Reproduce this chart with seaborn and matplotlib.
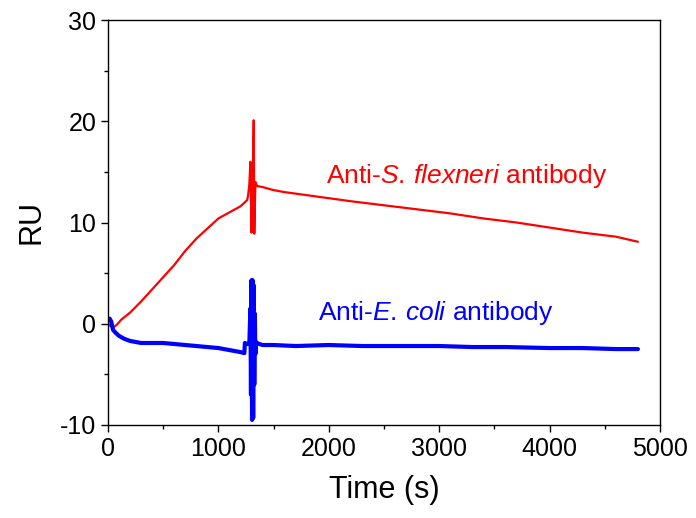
import matplotlib
matplotlib.use("Agg")
import matplotlib.pyplot as plt
from matplotlib.ticker import MultipleLocator
import seaborn as sns
import pandas as pd

# ---- data ----
red_t = [0, 20, 45, 80, 120, 200, 300, 400, 500, 600, 700, 800, 900, 1000,
         1100, 1200, 1260, 1268, 1280, 1290, 1300, 1310, 1320, 1325, 1335,
         1350, 1400, 1500, 1600, 1800, 2000, 2200, 2500, 2800, 3100, 3400,
         3700, 4000, 4300, 4600, 4800]
red_v = [0.0, -0.2, -0.4, -0.1, 0.4, 1.1, 2.2, 3.4, 4.6, 5.8, 7.2, 8.4, 9.4,
         10.4, 11.0, 11.6, 12.2, 12.6, 13.7, 16.0, 9.0, 13.5, 20.1, 8.9, 14.0,
         13.6, 13.5, 13.2, 13.0, 12.7, 12.4, 12.1, 11.7, 11.3, 10.9, 10.4,
         10.0, 9.5, 9.0, 8.6, 8.1]

blue_t = [0, 15, 30, 45, 70, 100, 150, 200, 300, 400, 500, 600, 700, 800,
          900, 1000, 1100, 1200, 1235, 1240, 1260, 1280, 1290, 1295, 1300,
          1305, 1310, 1315, 1320, 1325, 1330, 1335, 1340, 1350, 1370, 1400,
          1500, 1700, 2000, 2300, 2600, 3000, 3300, 3600, 4000, 4300, 4600,
          4800]
blue_v = [0.4, 0.5, 0.2, -0.6, -0.9, -1.2, -1.5, -1.7, -1.9, -1.9, -1.9,
          -2.0, -2.1, -2.2, -2.3, -2.4, -2.6, -2.8, -2.9, -1.9, -2.0, -2.0,
          1.5, -7.0, 4.3, -9.5, 4.3, -9.3, 3.8, -6.0, 1.0, -3.0, -1.8, -1.9,
          -2.0, -2.1, -2.1, -2.2, -2.1, -2.2, -2.2, -2.2, -2.3, -2.3, -2.4,
          -2.4, -2.5, -2.5]

series_names = ["Anti-S. flexneri antibody", "Anti-E. coli antibody"]
series_colors = ["#ff0000", "#0000ff"]
x_ticks = [0, 1000, 2000, 3000, 4000, 5000]
y_ticks = [-10, 0, 10, 20, 30]

# ---- figure ----
sns.set_style("ticks")
plt.rcParams["font.family"] = ["Liberation Sans", "DejaVu Sans"]
plt.rcParams["mathtext.fontset"] = "custom"
plt.rcParams["mathtext.rm"] = "Liberation Sans"
plt.rcParams["mathtext.it"] = "Liberation Sans:italic"
plt.rcParams["axes.unicode_minus"] = False
plt.rcParams["text.color"] = "black"
plt.rcParams["axes.labelcolor"] = "black"
plt.rcParams["xtick.color"] = "black"
plt.rcParams["ytick.color"] = "black"

fig = plt.figure(figsize=(6.96, 5.18), dpi=100)
ax = fig.add_axes([108 / 696, 1 - 425 / 518, (660 - 108) / 696, (425 - 20) / 518])

df_red = pd.DataFrame({"t": red_t, "v": red_v})
df_blue = pd.DataFrame({"t": blue_t, "v": blue_v})

sns.lineplot(data=df_red, x="t", y="v", ax=ax, color=series_colors[0],
             linewidth=1.6, estimator=None, sort=False)
sns.lineplot(data=df_blue, x="t", y="v", ax=ax, color=series_colors[1],
             linewidth=3.0, estimator=None, sort=False)

ax.set_xlim(0, 5000)
ax.set_ylim(-10, 30)
ax.set_xticks(x_ticks)
ax.set_yticks(y_ticks)
ax.xaxis.set_minor_locator(MultipleLocator(500))
ax.yaxis.set_minor_locator(MultipleLocator(5))
ax.tick_params(axis="both", which="major", direction="out", length=5,
               width=1.0, labelsize=18, top=False, right=False,
               color="black", labelcolor="black")
ax.tick_params(axis="both", which="minor", direction="out", length=3,
               width=1.0, top=False, right=False, color="black")
for s in ax.spines.values():
    s.set_visible(True)
    s.set_linewidth(1.0)
    s.set_color("black")

ax.set_xlabel("Time (s)", fontsize=22, labelpad=10, color="black")
ax.set_ylabel("RU", fontsize=22, labelpad=10, color="black")

ax.text(1975, 13.9, r"Anti-$\mathit{S.\,flexneri}$ antibody",
        color=series_colors[0], fontsize=19, va="baseline", ha="left")
ax.text(1900, 0.35, r"Anti-$\mathit{E.\,coli}$ antibody",
        color=series_colors[1], fontsize=19, va="baseline", ha="left")

fig.savefig("out.png", dpi=100)
